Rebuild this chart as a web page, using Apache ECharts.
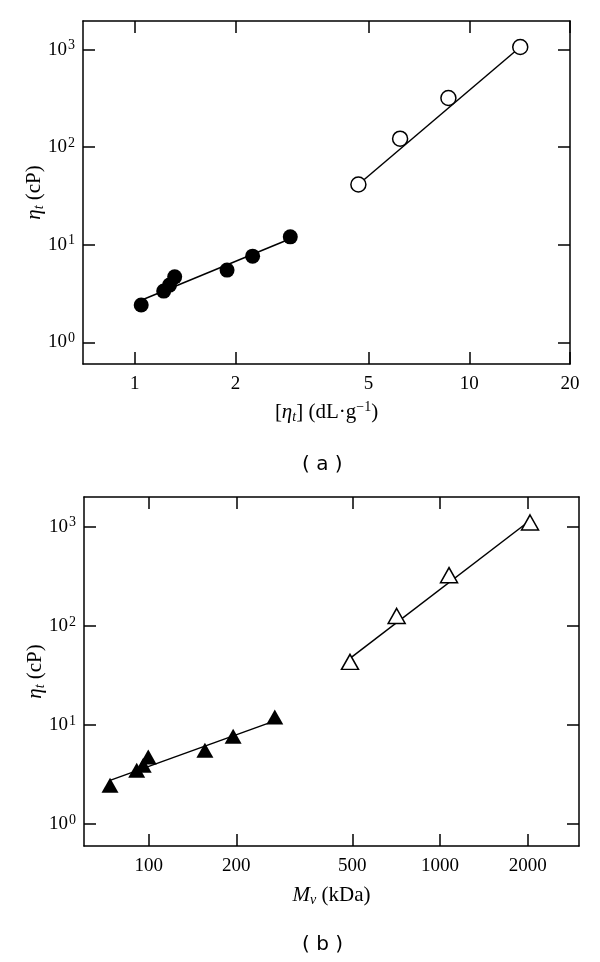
<!DOCTYPE html>
<html>
<head>
<meta charset="utf-8">
<script src="https://cdn.jsdelivr.net/npm/echarts@6/dist/echarts.min.js"></script>
<style>
html,body{margin:0;padding:0;background:#fff;}
#c{width:600px;height:962px;}
</style>
</head>
<body>
<div id="c"></div>
<script>
// ---- Panel (a): eta_t vs intrinsic viscosity ----
var aFilledX = [1.045, 1.22, 1.27, 1.316, 1.887, 2.25, 2.916];
var aFilledY = [2.41, 3.35, 3.86, 4.69, 5.50, 7.64, 12.05];
var aOpenX = [4.66, 6.21, 8.66, 14.2];
var aOpenY = [41.4, 122, 319, 1062];
var aFilledFitX = [1.045, 2.916];
var aFilledFitY = [2.70, 11.5];
var aOpenFitX = [4.66, 14.2];
var aOpenFitY = [41.4, 1062];
var aXTicks = [1, 2, 5, 10, 20];

// ---- Panel (b): eta_t vs Mv ----
var bFilledX = [73.7, 91, 95.8, 99.7, 156, 195, 271];
var bFilledY = [2.46, 3.49, 3.92, 4.75, 5.55, 7.69, 12.05];
var bOpenX = [491, 710, 1074, 2037];
var bOpenY = [43.3, 126, 325, 1107];
var bFilledFitX = [73.7, 271];
var bFilledFitY = [2.76, 11.0];
var bOpenFitX = [491, 2037];
var bOpenFitY = [46.9, 1158];
var bXTicks = [100, 200, 500, 1000, 2000];

var yTicks = [1, 10, 100, 1000];

function pairs(xs, ys) { return xs.map(function (x, i) { return [x, ys[i]]; }); }

var SERIF = '"Liberation Serif", "Times New Roman", serif';
var axisLine = { show: true, lineStyle: { color: '#000', width: 1.5 } };
var tickStyle = { color: '#000', width: 1.5 };

function yLabelFmt(v) {
  var n = Math.round(Math.log(v) / Math.LN10);
  return '{b|10}{s|' + n + '}';
}
var yRich = {
  b: { fontFamily: SERIF, fontSize: 19, color: '#000', lineHeight: 22 },
  s: { fontFamily: SERIF, fontSize: 14, color: '#000', verticalAlign: 'top', lineHeight: 22, padding: [0, 0, 6, 1] }
};
var nameRich = {
  n: { fontFamily: SERIF, fontSize: 21, color: '#000', lineHeight: 24 },
  i: { fontFamily: SERIF, fontSize: 21, fontStyle: 'italic', color: '#000', lineHeight: 24 },
  sub: { fontFamily: SERIF, fontSize: 14, fontStyle: 'italic', color: '#000', verticalAlign: 'bottom', lineHeight: 24, padding: [7, 0, 0, 0] },
  sup: { fontFamily: SERIF, fontSize: 14, color: '#000', verticalAlign: 'top', lineHeight: 24, padding: [0, 0, 7, 0] }
};

function makeX(gridIndex, min, max, ticks, name, nameGap) {
  return [
    {
      type: 'log', logBase: 10, gridIndex: gridIndex, position: 'bottom', min: min, max: max,
      axisLine: axisLine, splitLine: { show: false },
      axisTick: { show: true, inside: true, length: 12, lineStyle: tickStyle, customValues: ticks },
      axisLabel: { show: true, customValues: ticks, margin: 11, fontFamily: SERIF, fontSize: 19, color: '#000',
        formatter: function (v) { return String(Math.round(v)); } },
      minorTick: { show: false },
      name: name, nameLocation: 'middle', nameGap: nameGap, nameTextStyle: { rich: nameRich }
    },
    {
      type: 'log', logBase: 10, gridIndex: gridIndex, position: 'top', min: min, max: max,
      axisLine: axisLine, splitLine: { show: false },
      axisTick: { show: true, inside: true, length: 12, lineStyle: tickStyle, customValues: ticks },
      axisLabel: { show: false }
    }
  ];
}
function makeY(gridIndex, min, max) {
  return [
    {
      type: 'log', logBase: 10, gridIndex: gridIndex, position: 'left', min: min, max: max,
      axisLine: axisLine, splitLine: { show: false },
      axisTick: { show: true, inside: true, length: 12, lineStyle: tickStyle, customValues: yTicks },
      axisLabel: { show: true, customValues: yTicks, margin: 8, formatter: yLabelFmt, rich: yRich },
      name: '{i|η}{sub|t}{n| (cP)}', nameLocation: 'middle', nameRotate: 90, nameGap: 37,
      nameMoveOverlap: false,
      nameTextStyle: { rich: nameRich }
    },
    {
      type: 'log', logBase: 10, gridIndex: gridIndex, position: 'right', min: min, max: max,
      axisLine: axisLine, splitLine: { show: false },
      axisTick: { show: true, inside: true, length: 12, lineStyle: tickStyle, customValues: yTicks },
      axisLabel: { show: false }
    }
  ];
}

function fitLine(xi, yi, xs, ys) {
  return { type: 'line', xAxisIndex: xi, yAxisIndex: yi, data: pairs(xs, ys), symbol: 'none',
    lineStyle: { color: '#000', width: 1.5 }, z: 2, silent: true, animation: false };
}
function marks(xi, yi, xs, ys, symbol, size, filled) {
  return { type: 'scatter', xAxisIndex: xi, yAxisIndex: yi, data: pairs(xs, ys), symbol: symbol, symbolSize: size,
    itemStyle: filled ? { color: '#000', opacity: 1 } : { color: '#fff', borderColor: '#000', borderWidth: 1.5, opacity: 1 },
    z: 3, silent: true, animation: false };
}

var xAxes = makeX(0, 0.7, 20, aXTicks, '{n|[}{i|η}{sub|t}{n|] (dL·g}{sup|−1}{n|)}', 36)
  .concat(makeX(1, 60, 3000, bXTicks, '{i|M}{sub|v}{n| (kDa)}', 37));
var yAxes = makeY(0, 0.6, 1960).concat(makeY(1, 0.6, 2000));

var option = {
  backgroundColor: '#fff',
  animation: false,
  grid: [
    { left: 83, top: 21, width: 487, height: 343, containLabel: false },
    { left: 84, top: 497, width: 495, height: 349, containLabel: false }
  ],
  xAxis: xAxes,
  yAxis: yAxes,
  series: [
    fitLine(0, 0, aFilledFitX, aFilledFitY),
    fitLine(0, 0, aOpenFitX, aOpenFitY),
    marks(0, 0, aFilledX, aFilledY, 'circle', 15, true),
    marks(0, 0, aOpenX, aOpenY, 'circle', 15, false),
    fitLine(2, 2, bFilledFitX, bFilledFitY),
    fitLine(2, 2, bOpenFitX, bOpenFitY),
    marks(2, 2, bFilledX, bFilledY, 'triangle', [17, 15], true),
    marks(2, 2, bOpenX, bOpenY, 'triangle', [17, 15], false)
  ],
  graphic: [
    { type: 'text', left: 302, top: 455, style: { text: '( a )', fontFamily: '"DejaVu Sans", sans-serif', fontSize: 20, fill: '#000' } },
    { type: 'text', left: 302, top: 935, style: { text: '( b )', fontFamily: '"DejaVu Sans", sans-serif', fontSize: 20, fill: '#000' } }
  ]
};

var chart = echarts.init(document.getElementById('c'), null, { renderer: 'canvas' });
chart.setOption(option);
</script>
</body>
</html>
